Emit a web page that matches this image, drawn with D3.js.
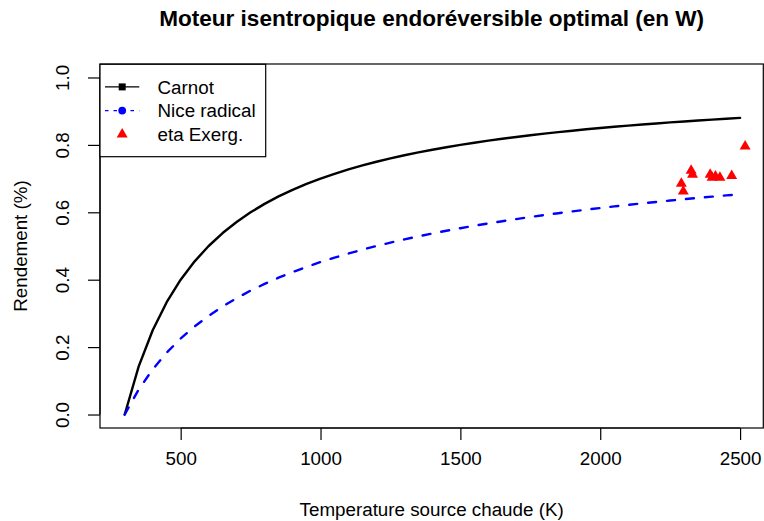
<!DOCTYPE html>
<html>
<head>
<meta charset="utf-8">
<script src="https://cdn.jsdelivr.net/npm/d3@7"></script>
<style>
  html, body { margin: 0; padding: 0; background: #fff; }
  svg { display: block; }
  text { font-family: "Liberation Sans", Arial, Helvetica, sans-serif; fill: #000; }
</style>
</head>
<body>
<svg id="chart" width="764" height="521"></svg>
<script>
// ---- Data ----
const temperatures = [300, 350, 400, 450, 500, 550, 600, 650, 700, 750, 800, 850, 900, 950, 1000,
  1050, 1100, 1150, 1200, 1250, 1300, 1350, 1400, 1450, 1500, 1550, 1600, 1650, 1700, 1750,
  1800, 1850, 1900, 1950, 2000, 2050, 2100, 2150, 2200, 2250, 2300, 2350, 2400, 2450, 2500];
const carnot = [0, 0.1429, 0.25, 0.3333, 0.4, 0.4545, 0.5, 0.5385, 0.5714, 0.6, 0.625, 0.6471,
  0.6667, 0.6842, 0.7, 0.7143, 0.7273, 0.7391, 0.75, 0.76, 0.7692, 0.7778, 0.7857, 0.7931, 0.8,
  0.8065, 0.8125, 0.8182, 0.8235, 0.8286, 0.8333, 0.8378, 0.8421, 0.8462, 0.85, 0.8537, 0.8571,
  0.8605, 0.8636, 0.8667, 0.8696, 0.8723, 0.875, 0.8776, 0.88];
const niceRadical = [0, 0.0742, 0.134, 0.1835, 0.2254, 0.2614, 0.2929, 0.3206, 0.3453, 0.3675,
  0.3876, 0.4059, 0.4226, 0.4381, 0.4523, 0.4655, 0.4778, 0.4892, 0.5, 0.5101, 0.5196, 0.5286,
  0.5371, 0.5451, 0.5528, 0.5601, 0.567, 0.5736, 0.5799, 0.586, 0.5918, 0.5973, 0.6026, 0.6078,
  0.6127, 0.6175, 0.622, 0.6265, 0.6307, 0.6349, 0.6388, 0.6427, 0.6464, 0.6501, 0.6536];
const exergT   = [2290, 2297, 2325, 2330, 2393, 2400, 2412, 2428, 2470, 2518];
const exergEta = [0.685, 0.662, 0.724, 0.712, 0.712, 0.703, 0.707, 0.703, 0.708, 0.796];
const xTicks = [500, 1000, 1500, 2000, 2500];
const yTicks = [0.0, 0.2, 0.4, 0.6, 0.8, 1.0];
const legendLabels = ["Carnot", "Nice radical", "eta Exerg."];
const titleText = "Moteur isentropique endoréversible optimal (en W)";
const xLabel = "Temperature source chaude (K)";
const yLabel = "Rendement (%)";

// ---- Layout ----
const svg = d3.select("#chart");
const plot = { left: 100, right: 763.3, top: 64, bottom: 428 };
const FS = 18.8;

const x = d3.scaleLinear().domain([211.6, 2583]).range([plot.left, plot.right]);
const y = d3.scaleLinear().domain([-0.04, 1.04]).range([plot.bottom, plot.top]);

svg.append("rect").attr("width", 764).attr("height", 521).attr("fill", "#fff");

// Curves
const carnotPts = temperatures.map((t, i) => [t, carnot[i]]);
const nicePts = temperatures.map((t, i) => [t, niceRadical[i]]);
const line = d3.line().x(d => x(d[0])).y(d => y(d[1]));

svg.append("path").datum(carnotPts).attr("d", line)
  .attr("fill", "none").attr("stroke", "#000").attr("stroke-width", 2.4)
  .attr("stroke-linejoin", "round").attr("stroke-linecap", "round");

svg.append("path").datum(nicePts).attr("d", line)
  .attr("fill", "none").attr("stroke", "#0000ff").attr("stroke-width", 2.4)
  .attr("stroke-dasharray", "8,11").attr("stroke-linecap", "round");

// Triangles
const tri = d3.symbol().type(d3.symbolTriangle).size(52);
svg.append("g").selectAll("path").data(exergT.map((t, i) => [t, exergEta[i]]))
  .join("path")
  .attr("d", tri)
  .attr("transform", d => `translate(${x(d[0])},${y(d[1])})`)
  .attr("fill", "#ff0000");

// Box
svg.append("rect")
  .attr("x", plot.left).attr("y", plot.top)
  .attr("width", plot.right - plot.left).attr("height", plot.bottom - plot.top)
  .attr("fill", "none").attr("stroke", "#000").attr("stroke-width", 1.2);

// X axis
const xAxis = d3.axisBottom(x).tickValues(xTicks).tickSize(12).tickPadding(12)
  .tickFormat(d3.format("d"));
const gx = svg.append("g").attr("transform", `translate(0,${plot.bottom})`).call(xAxis);
gx.select(".domain").attr("d", `M${x(xTicks[0])},0H${x(xTicks[xTicks.length - 1])}`)
  .attr("stroke", "#000").attr("stroke-width", 1.2);
gx.selectAll(".tick line").attr("stroke", "#000").attr("stroke-width", 1.2);
gx.selectAll(".tick text").attr("font-size", FS).attr("font-family", "Liberation Sans, Arial, sans-serif")
  .attr("fill", "#000");

// Y axis
const yAxis = d3.axisLeft(y).tickValues(yTicks).tickSize(12).tickFormat(d3.format(".1f"));
const gy = svg.append("g").attr("transform", `translate(${plot.left},0)`).call(yAxis);
gy.select(".domain").attr("d", `M0,${y(yTicks[0])}V${y(yTicks[yTicks.length - 1])}`)
  .attr("stroke", "#000").attr("stroke-width", 1.2);
gy.selectAll(".tick line").attr("stroke", "#000").attr("stroke-width", 1.2);
gy.selectAll(".tick text")
  .attr("x", null).attr("dy", null)
  .attr("transform", "translate(-31.5,0) rotate(-90)")
  .attr("text-anchor", "middle")
  .attr("font-size", FS).attr("font-family", "Liberation Sans, Arial, sans-serif")
  .attr("fill", "#000");

// Titles
svg.append("text").attr("x", (plot.left + plot.right) / 2).attr("y", 26)
  .attr("text-anchor", "middle").attr("font-weight", "bold").attr("font-size", FS * 1.2)
  .text(titleText);
svg.append("text").attr("x", (plot.left + plot.right) / 2).attr("y", 516)
  .attr("text-anchor", "middle").attr("font-size", FS).text(xLabel);
svg.append("text").attr("transform", `translate(27,${(plot.top + plot.bottom) / 2}) rotate(-90)`)
  .attr("text-anchor", "middle").attr("font-size", FS).text(yLabel);

// Legend
const lg = svg.append("g");
lg.append("rect").attr("x", 100).attr("y", 64.3).attr("width", 165.7).attr("height", 92.4)
  .attr("fill", "#fff").attr("stroke", "#000").attr("stroke-width", 1.2);
const rowY = [86.9, 110.6, 134.3];
const lx0 = 105, lx1 = 139.3, mx = 122.2, tx = 157.5;
// Carnot
lg.append("line").attr("x1", lx0).attr("x2", lx1).attr("y1", rowY[0]).attr("y2", rowY[0])
  .attr("stroke", "#000").attr("stroke-width", 1.3);
lg.append("path").attr("d", d3.symbol().type(d3.symbolSquare).size(49)())
  .attr("transform", `translate(${mx},${rowY[0]})`).attr("fill", "#000");
// Nice radical
lg.append("line").attr("x1", lx0).attr("x2", lx1).attr("y1", rowY[1]).attr("y2", rowY[1])
  .attr("stroke", "#0000ff").attr("stroke-width", 1.3).attr("stroke-dasharray", "3.5,5");
lg.append("circle").attr("cx", mx).attr("cy", rowY[1]).attr("r", 3.9).attr("fill", "#0000ff");
// eta Exerg.
lg.append("path").attr("d", tri()).attr("transform", `translate(${mx},${rowY[2]})`).attr("fill", "#ff0000");
lg.selectAll("text.lbl").data(legendLabels).join("text").attr("class", "lbl")
  .attr("x", tx).attr("y", (d, i) => rowY[i] + 6.8).attr("font-size", FS).text(d => d);
</script>
</body>
</html>
